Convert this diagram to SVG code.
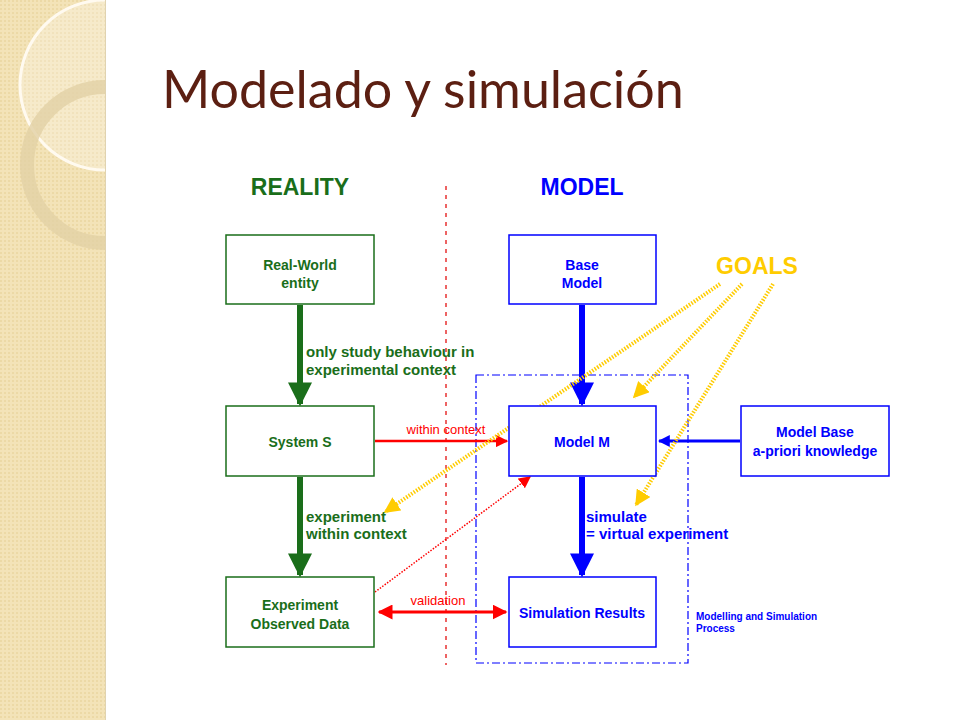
<svg xmlns="http://www.w3.org/2000/svg" width="960" height="720" viewBox="0 0 960 720">
<defs>
<pattern id="pt" width="4" height="4" patternUnits="userSpaceOnUse"><rect width="4" height="4" fill="#f3e3b8"/><rect width="2" height="2" fill="#ecd9a6"/></pattern>
<clipPath id="cp"><rect width="105" height="720"/></clipPath>
<marker id="ag" viewBox="0 0 10 10" refX="9" refY="5" markerWidth="4" markerHeight="4" orient="auto"><path d="M0,0L10,5L0,10z" fill="#1a6e1a"/></marker>
<marker id="ab" viewBox="0 0 10 10" refX="9" refY="5" markerWidth="4" markerHeight="4" orient="auto"><path d="M0,0L10,5L0,10z" fill="#0000ff"/></marker>
<marker id="ar" viewBox="0 0 10 10" refX="9" refY="5" markerWidth="5" markerHeight="5" orient="auto-start-reverse"><path d="M0,0L10,5L0,10z" fill="#ff0000"/></marker>
<marker id="ar2" viewBox="0 0 10 10" refX="9" refY="5" markerWidth="8" markerHeight="8" orient="auto"><path d="M0,0L10,5L0,10z" fill="#ff0000"/></marker>
<marker id="ay" viewBox="0 0 10 10" refX="9" refY="5" markerWidth="4" markerHeight="4" orient="auto"><path d="M0,0L10,5L0,10z" fill="#ffcc00"/></marker>
</defs>
<style>
.g{fill:#fff;stroke:#1a6e1a;stroke-width:1.5}
.b{fill:#fff;stroke:#0000ff;stroke-width:1.5}
.t{font-family:"Liberation Sans",Arial,sans-serif;font-weight:bold;font-size:14px;text-anchor:middle}
.l{font-family:"Liberation Sans",Arial,sans-serif;font-weight:bold;font-size:15px}
.y{stroke:#ffcc00;stroke-width:4;stroke-dasharray:1.5 1.5;fill:none;marker-end:url(#ay)}
</style>
<rect width="960" height="720" fill="#fff"/>
<rect width="105" height="720" fill="url(#pt)"/>
<line x1="105.5" y1="0" x2="105.5" y2="720" stroke="#e0d3b0"/>
<g clip-path="url(#cp)">
<circle cx="105" cy="85" r="85" fill="#fff" fill-opacity="0.25" stroke="#fffaf0" stroke-width="3"/>
<circle cx="105" cy="165" r="78" fill="none" stroke="#e2d1a5" stroke-width="14" stroke-opacity="0.8"/>
</g>
<text x="162" y="108" font-family="Lato,'Open Sans',sans-serif" font-size="52" fill="#5c1f12">Modelado y simulación</text>
<text x="300" y="195" class="l" fill="#1a6e1a" text-anchor="middle" style="font-size:23px">REALITY</text>
<text x="582" y="195" class="l" fill="#0000ff" text-anchor="middle" style="font-size:23px">MODEL</text>
<text x="757" y="274" class="l" fill="#ffcc00" text-anchor="middle" style="font-size:23px">GOALS</text>
<line x1="446" y1="186" x2="446" y2="665" stroke="#e83030" stroke-width="1.5" stroke-dasharray="4 5"/>
<rect x="476" y="375" width="212" height="288" fill="none" stroke="#0000ff" stroke-width="1.2" stroke-dasharray="8 3 2 3"/>
<text x="696" y="620" font-family="Liberation Sans,Arial,sans-serif" font-weight="bold" font-size="10" fill="#0000ff">Modelling and Simulation</text>
<text x="696" y="632" font-family="Liberation Sans,Arial,sans-serif" font-weight="bold" font-size="10" fill="#0000ff">Process</text>
<g id="connectors">
<line x1="300" y1="305" x2="300" y2="404" stroke="#1a6e1a" stroke-width="6" marker-end="url(#ag)"/>
<line x1="300" y1="477" x2="300" y2="575" stroke="#1a6e1a" stroke-width="6" marker-end="url(#ag)"/>
<line x1="582" y1="305" x2="582" y2="404" stroke="#0000ff" stroke-width="6" marker-end="url(#ab)"/>
<line x1="582" y1="477" x2="582" y2="575" stroke="#0000ff" stroke-width="6" marker-end="url(#ab)"/>
<line x1="740" y1="441" x2="659" y2="441" stroke="#0000ff" stroke-width="3" marker-end="url(#ab)"/>
<line x1="375" y1="441" x2="507" y2="441" stroke="#ff0000" stroke-width="2.5" marker-end="url(#ar)"/>
<line x1="379" y1="612" x2="506" y2="612" stroke="#ff0000" stroke-width="3" marker-start="url(#ar)" marker-end="url(#ar)"/>
<line x1="375" y1="592" x2="530" y2="477" stroke="#ff0000" stroke-width="1.5" stroke-dasharray="1.5 1.5" marker-end="url(#ar2)"/>
<line x1="720" y1="284" x2="385" y2="512" class="y"/>
<line x1="742" y1="284" x2="634" y2="397" class="y"/>
<line x1="773" y1="284" x2="636" y2="505" class="y"/>
</g>
<text x="306" y="357" class="l" fill="#1a6e1a">only study behaviour in</text>
<text x="306" y="375" class="l" fill="#1a6e1a">experimental context</text>
<text x="306" y="522" class="l" fill="#1a6e1a">experiment</text>
<text x="306" y="539" class="l" fill="#1a6e1a">within context</text>
<text x="586" y="522" class="l" fill="#0000ff">simulate</text>
<text x="586" y="539" class="l" fill="#0000ff">= virtual experiment</text>
<text x="446" y="434" font-family="Liberation Sans,Arial,sans-serif" font-size="13" fill="#ff0000" text-anchor="middle">within context</text>
<text x="438" y="605" font-family="Liberation Sans,Arial,sans-serif" font-size="13" fill="#ff0000" text-anchor="middle">validation</text>
<g id="rw"><rect x="226" y="235" width="148" height="69" class="g"/><text x="300" y="270" class="t" fill="#1a6e1a">Real-World</text><text x="300" y="288" class="t" fill="#1a6e1a">entity</text></g>
<g id="sys"><rect x="226" y="406" width="148" height="70" class="g"/><text x="300" y="447" class="t" fill="#1a6e1a">System S</text></g>
<g id="exp"><rect x="226" y="577" width="148" height="70" class="g"/><text x="300" y="610" class="t" fill="#1a6e1a">Experiment</text><text x="300" y="629" class="t" fill="#1a6e1a">Observed Data</text></g>
<g id="base"><rect x="509" y="235" width="147" height="69" class="b"/><text x="582" y="270" class="t" fill="#0000ff">Base</text><text x="582" y="288" class="t" fill="#0000ff">Model</text></g>
<g id="mm"><rect x="509" y="406" width="147" height="70" class="b"/><text x="582" y="447" class="t" fill="#0000ff">Model M</text></g>
<g id="sim"><rect x="509" y="577" width="147" height="70" class="b"/><text x="582" y="618" class="t" fill="#0000ff">Simulation Results</text></g>
<g id="mb"><rect x="741" y="406" width="148" height="70" class="b"/><text x="815" y="437" class="t" fill="#0000ff">Model Base</text><text x="815" y="456" class="t" fill="#0000ff">a-priori knowledge</text></g>
</svg>
